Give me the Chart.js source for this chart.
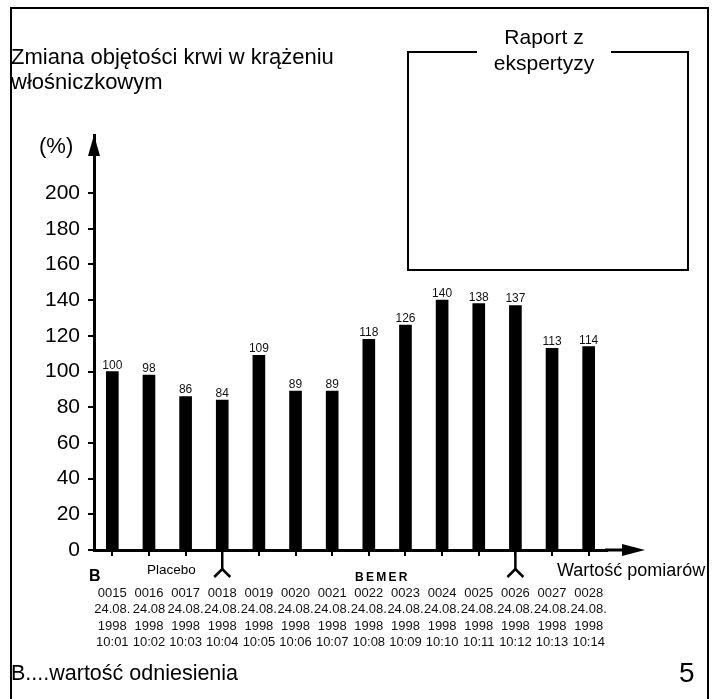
<!DOCTYPE html>
<html>
<head>
<meta charset="utf-8">
<script src="https://cdn.jsdelivr.net/npm/chart.js@4/dist/chart.umd.min.js"></script>
<style>
  html, body { margin:0; padding:0; background:#fff; overflow:hidden; }
  #wrap { position:relative; width:721px; height:699px; overflow:hidden; }
  #c { position:absolute; left:0; top:0; }
  .t { position:absolute; white-space:nowrap; color:#000; font-family:"Liberation Sans", Arial, sans-serif; }
  #page { position:absolute; left:10px; top:7px; width:699px; height:760px; border:2px solid #000; box-sizing:border-box; }
  #box { position:absolute; left:407px; top:51px; width:282px; height:220px; border:2px solid #000; box-sizing:border-box; }
  #gap { position:absolute; left:477px; top:48px; width:134px; height:8px; background:#fff; }
</style>
</head>
<body>
<div id="wrap">
  <div id="page"></div>
  <div id="box"></div>
  <div id="gap"></div>
  <canvas id="c" width="721" height="699"></canvas>
  <div class="t" style="left:11px; top:44px; font-size:22px; line-height:25px;">Zmiana objętości krwi w krążeniu<br>włośniczkowym</div>
  <div class="t" style="left:444px; width:200px; text-align:center; top:24px; font-size:21px; line-height:26px;">Raport z<br>ekspertyzy</div>
  <div class="t" style="left:39px; top:133px; font-size:22px; line-height:26px;">(%)</div>
  <div class="t" style="left:89px; top:566px; font-size:16px; line-height:20px; font-weight:bold;">B</div>
  <div class="t" style="left:147px; top:561px; font-size:13.5px; line-height:18px;">Placebo</div>
  <div class="t" style="left:355px; top:569px; font-size:12px; line-height:16px; font-weight:bold; letter-spacing:2.3px;">BEMER</div>
  <div class="t" style="left:557px; top:559px; font-size:18px; line-height:22px;">Wartość pomiarów</div>
  <div class="t" style="left:11px; top:660px; font-size:21.5px; line-height:26px;">B....wartość odniesienia</div>
  <div class="t" style="left:679px; top:656px; font-size:28px; line-height:34px;">5</div>
</div>
<script>
// ---- data ----
const codes  = ['0015','0016','0017','0018','0019','0020','0021','0022','0023','0024','0025','0026','0027','0028'];
const dates  = ['24.08.','24.08','24.08.','24.08.','24.08.','24.08.','24.08.','24.08.','24.08.','24.08.','24.08.','24.08.','24.08.','24.08.'];
const years  = ['1998','1998','1998','1998','1998','1998','1998','1998','1998','1998','1998','1998','1998','1998'];
const times  = ['10:01','10:02','10:03','10:04','10:05','10:06','10:07','10:08','10:09','10:10','10:11','10:12','10:13','10:14'];
const values = [100, 98, 86, 84, 109, 89, 89, 118, 126, 140, 138, 137, 113, 114];
const yTicks = [0, 20, 40, 60, 80, 100, 120, 140, 160, 180, 200];
const yMax = 232.5;
const markerIdx = [3, 11];

const labels = codes.map((c, i) => [c, dates[i], years[i], times[i]]);

const decor = {
  id: 'decor',
  afterDraw(chart) {
    const ctx = chart.ctx, ca = chart.chartArea, xs = chart.scales.x;
    ctx.save();
    // value labels
    ctx.fillStyle = '#111';
    ctx.font = '12px "Liberation Sans", Arial, sans-serif';
    ctx.textAlign = 'center';
    ctx.textBaseline = 'alphabetic';
    chart.getDatasetMeta(0).data.forEach((b, i) => {
      ctx.fillText(String(values[i]), b.x, b.y - 3);
    });
    // y arrow
    ctx.fillStyle = '#000';
    ctx.beginPath();
    ctx.moveTo(ca.left, ca.top);
    ctx.lineTo(ca.left - 6, ca.top + 21);
    ctx.lineTo(ca.left + 6, ca.top + 21);
    ctx.closePath();
    ctx.fill();
    // x axis extension + arrow
    ctx.strokeStyle = '#000';
    ctx.lineWidth = 3;
    ctx.beginPath();
    ctx.moveTo(ca.right - 2, ca.bottom);
    ctx.lineTo(625, ca.bottom);
    ctx.stroke();
    ctx.beginPath();
    ctx.moveTo(645, ca.bottom);
    ctx.lineTo(622, ca.bottom - 6);
    ctx.lineTo(622, ca.bottom + 6);
    ctx.closePath();
    ctx.fill();
    // markers
    ctx.lineWidth = 2.5;
    markerIdx.forEach(i => {
      const px = xs.getPixelForValue(i);
      ctx.beginPath();
      ctx.moveTo(px, ca.bottom);
      ctx.lineTo(px, ca.bottom + 19);
      ctx.stroke();
      ctx.beginPath();
      ctx.moveTo(px - 8, ca.bottom + 27);
      ctx.lineTo(px, ca.bottom + 19);
      ctx.lineTo(px + 8, ca.bottom + 27);
      ctx.stroke();
    });
    ctx.restore();
  }
};

new Chart(document.getElementById('c'), {
  type: 'bar',
  data: {
    labels: labels,
    datasets: [{
      data: values,
      backgroundColor: '#000',
      borderWidth: 0,
      barThickness: 12
    }]
  },
  options: {
    responsive: false,
    animation: false,
    events: [],
    layout: { padding: { left: 14, top: 135, right: 114, bottom: 49 } },
    plugins: { legend: { display: false }, tooltip: { enabled: false }, title: { display: false } },
    scales: {
      x: {
        type: 'category',
        offset: true,
        afterFit: s => { s.height = 100; },
        border: { display: true, color: '#000', width: 3 },
        grid: { display: true, offset: false, drawOnChartArea: false, drawTicks: true, tickLength: 6, color: '#000', lineWidth: 2 },
        ticks: {
          autoSkip: false, maxRotation: 0, minRotation: 0, padding: 29, color: '#111',
          font: { family: '"Liberation Sans", Arial, sans-serif', size: 13, lineHeight: 1.27 }
        }
      },
      y: {
        min: 0, max: yMax,
        afterFit: s => { s.width = 80; },
        afterBuildTicks: s => { s.ticks = yTicks.map(v => ({ value: v })); },
        border: { display: true, color: '#000', width: 3 },
        grid: { display: true, drawOnChartArea: false, drawTicks: true, tickLength: 6, color: '#000', lineWidth: 2 },
        ticks: {
          padding: 8, color: '#000',
          font: { family: '"Liberation Sans", Arial, sans-serif', size: 21 },
          callback: v => String(v)
        }
      }
    }
  },
  plugins: [decor]
});
</script>
</body>
</html>
